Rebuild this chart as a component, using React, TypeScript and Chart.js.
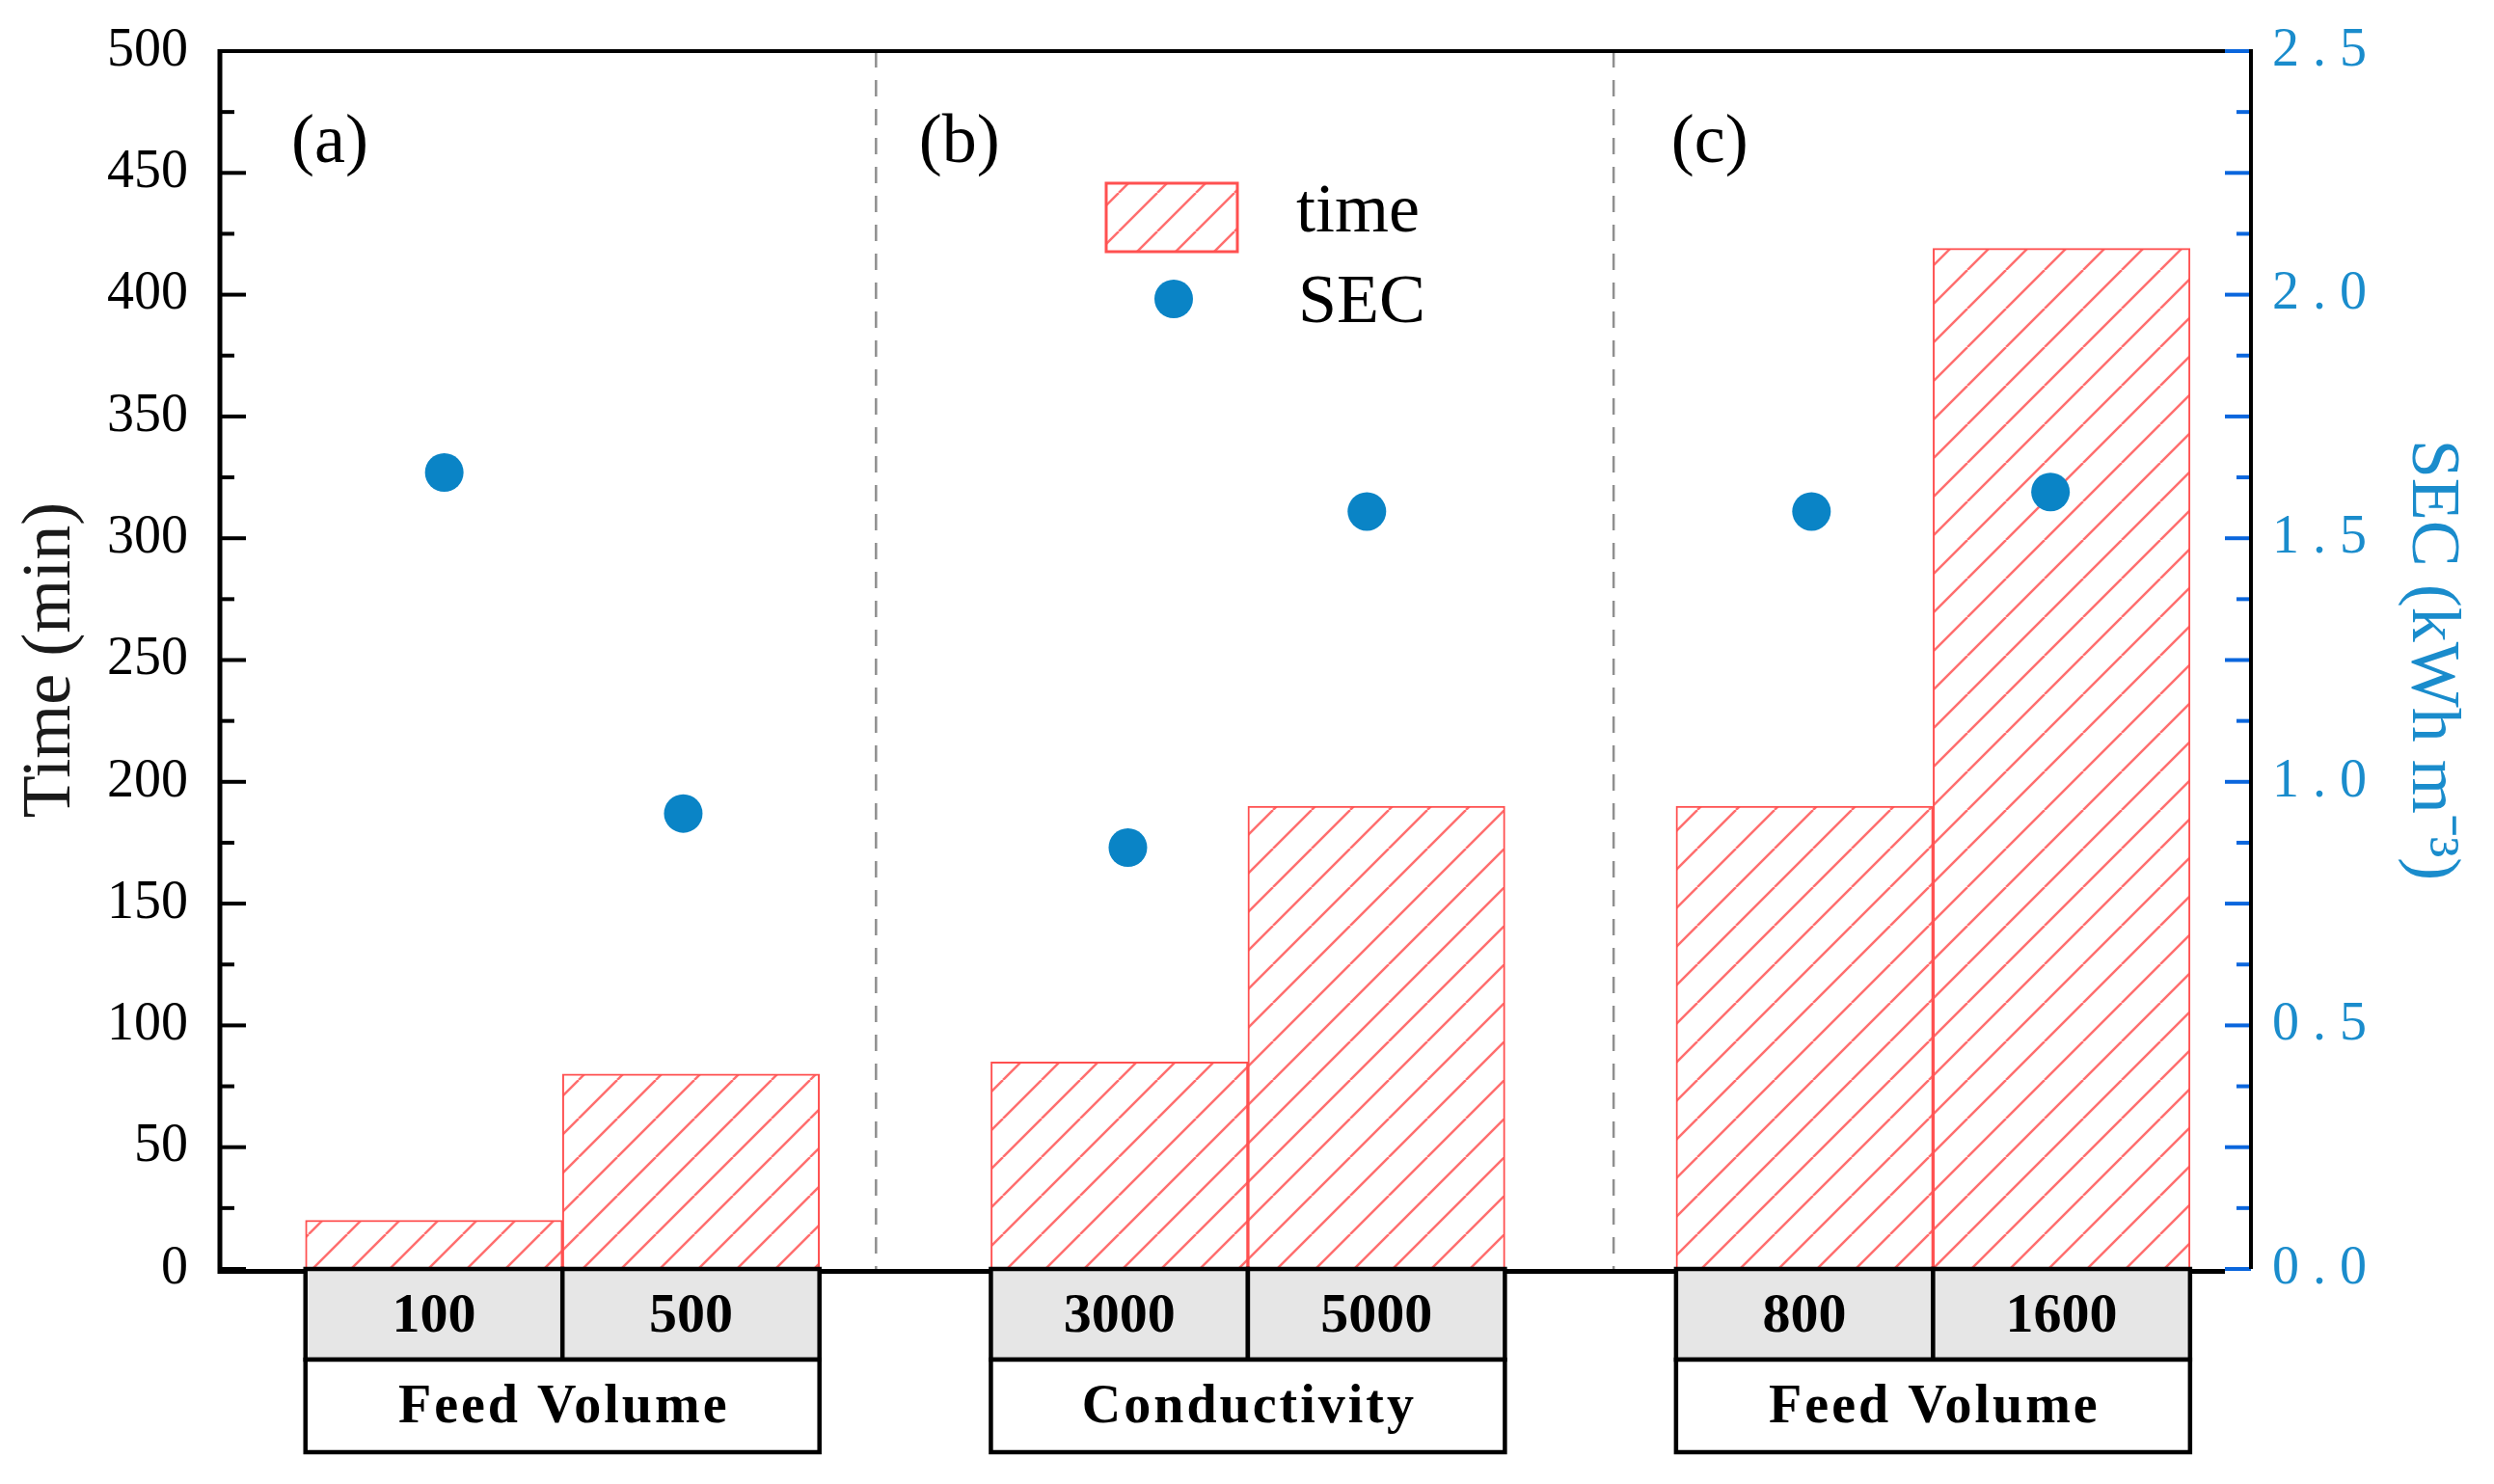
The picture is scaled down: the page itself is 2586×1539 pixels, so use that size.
import React, { useEffect, useRef } from 'react';
import { Chart, registerables } from 'chart.js';
Chart.register(...registerables);

// ---- data ----
const categories = ['100', '500', '3000', '5000', '800', '1600'];
const groupLabels = ['Feed Volume', 'Conductivity', 'Feed Volume'];
const panelLabels = ['(a)', '(b)', '(c)'];
const barX = [0, 1, 2.667, 3.667, 5.333, 6.333];
const timeValues = [20, 80, 85, 190, 190, 419];
const secX = [0.04, 0.97, 2.7, 3.63, 5.36, 6.29];
const secValues = [1.635, 0.935, 0.865, 1.555, 1.555, 1.595];
const dividerX = [1.72, 4.59];
const panelLabelX = [-0.555, 1.887, 4.814];
const legendLabels = ['time', 'SEC'];

const SERIF = '"Liberation Serif", "Times New Roman", serif';
const RED_LINE = '#ff6e6e';
const RED_BORDER = '#ff5050';
const DOT = '#0a84c6';
const BLUE_TEXT = '#1a8ccc';
const BLUE_TICK = '#0a66dd';

function makePattern(): CanvasPattern | string {
  const tile = document.createElement('canvas');
  tile.width = 40;
  tile.height = 40;
  const t = tile.getContext('2d');
  if (!t) return RED_LINE;
  t.fillStyle = '#ffffff';
  t.fillRect(0, 0, 40, 40);
  t.strokeStyle = RED_LINE;
  t.lineWidth = 2.5;
  for (const o of [-40, 0, 40]) {
    t.beginPath();
    t.moveTo(o, 40);
    t.lineTo(o + 40, 0);
    t.stroke();
  }
  const ctx = document.createElement('canvas').getContext('2d');
  return (ctx && ctx.createPattern(tile, 'repeat')) || RED_LINE;
}

export default function App() {
  const ref = useRef<HTMLCanvasElement | null>(null);

  useEffect(() => {
    document.body.style.margin = '0';
    const canvas = ref.current;
    if (!canvas) return;
    const pattern = makePattern();

    const dividerPlugin = {
      id: 'dividers',
      beforeDatasetsDraw(chart: any) {
        const { ctx, chartArea } = chart;
        const xs = chart.scales.x;
        ctx.save();
        ctx.strokeStyle = '#8f8f8f';
        ctx.lineWidth = 2.5;
        ctx.setLineDash([17, 13]);
        for (const d of dividerX) {
          const px = xs.getPixelForValue(d);
          ctx.beginPath();
          ctx.moveTo(px, chartArea.top);
          ctx.lineTo(px, chartArea.bottom);
          ctx.stroke();
        }
        ctx.restore();
      },
    };

    const framePlugin = {
      id: 'frame',
      afterDatasetsDraw(chart: any) {
        const { ctx, chartArea } = chart;
        const { left, right, top, bottom } = chartArea;
        const y = chart.scales.y;
        const y1 = chart.scales.y1;
        ctx.save();
        ctx.lineCap = 'butt';
        ctx.strokeStyle = '#000';
        ctx.lineWidth = 4;
        for (let v = 0; v <= 500; v += 25) {
          const py = y.getPixelForValue(v);
          const len = v % 50 === 0 ? 27 : 15;
          ctx.beginPath();
          ctx.moveTo(left, py);
          ctx.lineTo(left + len, py);
          ctx.stroke();
        }
        ctx.strokeStyle = BLUE_TICK;
        for (let k = 0; k <= 20; k++) {
          const v = k * 0.125;
          const py = y1.getPixelForValue(v);
          const len = k % 2 === 0 ? 27 : 15;
          ctx.beginPath();
          ctx.moveTo(right, py);
          ctx.lineTo(right - len, py);
          ctx.stroke();
        }
        ctx.strokeStyle = '#000';
        ctx.lineWidth = 4;
        ctx.beginPath();
        ctx.moveTo(left, top);
        ctx.lineTo(right - 27, top);
        ctx.stroke();
        ctx.beginPath();
        ctx.moveTo(right, top - 2);
        ctx.lineTo(right, bottom);
        ctx.stroke();
        ctx.lineWidth = 5;
        ctx.beginPath();
        ctx.moveTo(left, top - 2);
        ctx.lineTo(left, bottom + 2.5);
        ctx.lineTo(right - 27, bottom + 2.5);
        ctx.stroke();
        ctx.restore();
      },
    };

    const annotPlugin = {
      id: 'annot',
      afterDraw(chart: any) {
        const { ctx, chartArea } = chart;
        const { left, top, bottom } = chartArea;
        const xs = chart.scales.x;
        const y = chart.scales.y;
        ctx.save();
        ctx.fillStyle = '#000';
        ctx.font = `72px ${SERIF}`;
        ctx.textAlign = 'left';
        ctx.textBaseline = 'middle';
        panelLabels.forEach((t, i) => {
          ctx.fillText(t, xs.getPixelForValue(panelLabelX[i]), y.getPixelForValue(462));
        });
        // legend
        const bx = left + 919;
        const by = top + 137;
        ctx.fillStyle = pattern as any;
        ctx.fillRect(bx, by, 136, 71);
        ctx.strokeStyle = RED_BORDER;
        ctx.lineWidth = 3;
        ctx.strokeRect(bx, by, 136, 71);
        ctx.fillStyle = DOT;
        ctx.beginPath();
        ctx.arc(left + 989, top + 257, 20, 0, Math.PI * 2);
        ctx.fill();
        ctx.fillStyle = '#000';
        ctx.font = `72px ${SERIF}`;
        ctx.fillText(legendLabels[0], left + 1116, top + 168);
        ctx.fillText(legendLabels[1], left + 1118, top + 262);

        // table
        const row1 = 94;
        const row2 = 96;
        ctx.lineWidth = 4.5;
        ctx.strokeStyle = '#000';
        categories.forEach((c, i) => {
          const x0 = xs.getPixelForValue(barX[i] - 0.5);
          const x1 = xs.getPixelForValue(barX[i] + 0.5);
          ctx.fillStyle = '#e6e6e6';
          ctx.fillRect(x0, bottom + 2, x1 - x0, row1 - 2);
          ctx.strokeRect(x0, bottom, x1 - x0, row1);
          ctx.fillStyle = '#000';
          ctx.font = `bold 58px ${SERIF}`;
          ctx.textAlign = 'center';
          ctx.fillText(c, (x0 + x1) / 2, bottom + row1 / 2 + 3);
        });
        groupLabels.forEach((g, gi) => {
          const x0 = xs.getPixelForValue(barX[gi * 2] - 0.5);
          const x1 = xs.getPixelForValue(barX[gi * 2 + 1] + 0.5);
          ctx.fillStyle = '#fff';
          ctx.fillRect(x0, bottom + row1, x1 - x0, row2);
          ctx.strokeRect(x0, bottom + row1, x1 - x0, row2);
          ctx.fillStyle = '#000';
          ctx.font = `bold 56px ${SERIF}`;
          ctx.textAlign = 'center';
          (ctx as any).letterSpacing = '3px';
          ctx.fillText(g, (x0 + x1) / 2 + 1.5, bottom + row1 + row2 / 2 + 3);
          (ctx as any).letterSpacing = '0px';
        });
        ctx.restore();
      },
    };

    const chart = new Chart(canvas, {
      type: 'bar',
      data: {
        datasets: [
          {
            type: 'scatter' as any,
            label: legendLabels[1],
            data: secX.map((x, i) => ({ x, y: secValues[i] })),
            xAxisID: 'x',
            yAxisID: 'y1',
            pointRadius: 20,
            pointHoverRadius: 20,
            pointBackgroundColor: DOT,
            pointBorderWidth: 0,
            showLine: false,
            order: 0,
          } as any,
          {
            type: 'bar',
            label: legendLabels[0],
            data: barX.map((x, i) => ({ x, y: timeValues[i] })),
            xAxisID: 'x',
            yAxisID: 'y',
            backgroundColor: pattern as any,
            borderColor: RED_BORDER,
            borderWidth: 2,
            borderSkipped: 'bottom',
            barPercentage: 1,
            categoryPercentage: 1,
            order: 1,
          } as any,
        ],
      },
      options: {
        animation: false,
        responsive: false,
        events: [],
        layout: { padding: { top: 53, bottom: 223, left: 0, right: 0 } },
        plugins: {
          legend: { display: false },
          tooltip: { enabled: false },
        },
        scales: {
          x: {
            type: 'linear',
            min: -0.833,
            max: 7.07,
            offset: false,
            display: false,
            afterBuildTicks: (axis: any) => {
              axis.ticks = barX.map((v) => ({ value: v }));
            },
          },
          y: {
            type: 'linear',
            position: 'left',
            min: 0,
            max: 500,
            grid: { display: false, drawTicks: false },
            border: { display: false },
            ticks: {
              stepSize: 50,
              autoSkip: false,
              padding: 33,
              color: '#000',
              font: { family: SERIF, size: 56 },
            },
            title: {
              display: true,
              text: 'Time (min)',
              color: '#1a1a1a',
              font: { family: SERIF, size: 72 },
              padding: { top: 10, bottom: 0 },
            },
            afterFit: (s: any) => {
              s.width = 228;
              s.paddingTop = 0;
              s.paddingBottom = 0;
            },
          },
          y1: {
            type: 'linear',
            position: 'right',
            min: 0,
            max: 2.5,
            grid: { display: false, drawTicks: false },
            border: { display: false },
            ticks: {
              stepSize: 0.5,
              autoSkip: false,
              padding: 22,
              color: BLUE_TEXT,
              font: { family: SERIF, size: 56 },
              callback: (v: any) => Number(v).toFixed(1).replace('.', ' . '),
            },
            title: {
              display: true,
              text: 'SEC (kWh m⁻³)',
              color: BLUE_TEXT,
              font: { family: SERIF, size: 72 },
              padding: { top: 22, bottom: 0 },
            },
            afterFit: (s: any) => {
              s.width = 252;
              s.paddingTop = 0;
              s.paddingBottom = 0;
            },
          },
        },
      },
      plugins: [dividerPlugin, framePlugin, annotPlugin],
    });

    return () => {
      chart.destroy();
    };
  }, []);

  return (
    <div style={{ width: 2586, height: 1539, background: '#fff' }}>
      <canvas ref={ref} width={2586} height={1539} />
    </div>
  );
}
